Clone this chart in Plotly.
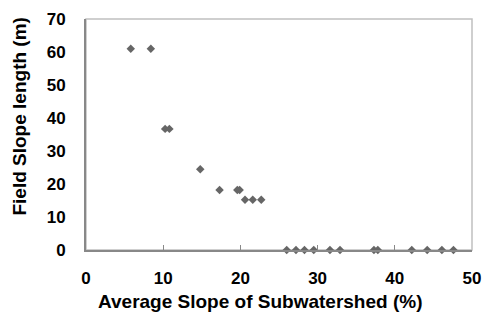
import plotly.graph_objects as go

slope_pct = [5.8, 8.4, 10.25, 10.8, 14.8, 17.3, 19.6, 19.9, 20.6, 21.6, 22.7,
             26.0, 27.2, 28.3, 29.5, 31.6, 32.9, 37.3, 37.8, 42.2, 44.2, 46.1, 47.6]
field_len = [61, 61, 36.7, 36.7, 24.5, 18.2, 18.2, 18.2, 15.2, 15.2, 15.2,
             0, 0, 0, 0, 0, 0, 0, 0, 0, 0, 0, 0]
x_ticks = [0, 10, 20, 30, 40, 50]
y_ticks = [0, 10, 20, 30, 40, 50, 60, 70]
x_title = "Average Slope of Subwatershed (%)"
y_title = "Field Slope length (m)"

FONT = "Arial, Liberation Sans, sans-serif"

fig = go.Figure(go.Scatter(
    x=slope_pct, y=field_len, mode="markers",
    marker=dict(symbol="diamond", size=6.5, color="#666666", line=dict(width=0)),
    cliponaxis=False,
))

fig.add_shape(type="rect", xref="x domain", yref="y domain", x0=0, x1=1, y0=0, y1=1,
              line=dict(color="#c0c0c0", width=1.5), layer="below")

fig.update_layout(
    width=491, height=320,
    margin=dict(l=86, r=10, t=13, b=70),
    paper_bgcolor="white", plot_bgcolor="white",
    showlegend=False,
    font=dict(family=FONT, color="black"),
    xaxis=dict(
        range=[0, 50], tickvals=x_ticks, ticks="inside", ticklen=5, tickcolor="#888888",
        showline=True, linecolor="#888888", linewidth=2, showgrid=False, zeroline=False,
        tickfont=dict(family=FONT, size=17, weight="bold"), ticklabelstandoff=12,
    ),
    yaxis=dict(
        range=[0, 70], tickvals=y_ticks, ticks="outside", ticklen=15,
        tickcolor="rgba(0,0,0,0)",
        showline=True, linecolor="#888888", linewidth=2, showgrid=False, zeroline=False,
        tickfont=dict(family=FONT, size=17, weight="bold"),
    ),
    yaxis2=dict(
        range=[0, 70], tickvals=y_ticks, ticks="inside", ticklen=5, tickcolor="#888888",
        overlaying="y", side="left", showticklabels=False, showline=False,
        showgrid=False, zeroline=False,
    ),
    annotations=[
        dict(text=x_title, xref="paper", yref="paper", x=0.4506, y=-0.222,
             xanchor="center", yanchor="middle", showarrow=False,
             font=dict(family=FONT, size=19, weight="bold", color="black")),
        dict(text=y_title, xref="paper", yref="paper", x=-0.1734, y=0.578,
             xanchor="center", yanchor="middle", showarrow=False, textangle=-90,
             font=dict(family=FONT, size=19, weight="bold", color="black")),
    ],
)

fig.write_html("out.html")
